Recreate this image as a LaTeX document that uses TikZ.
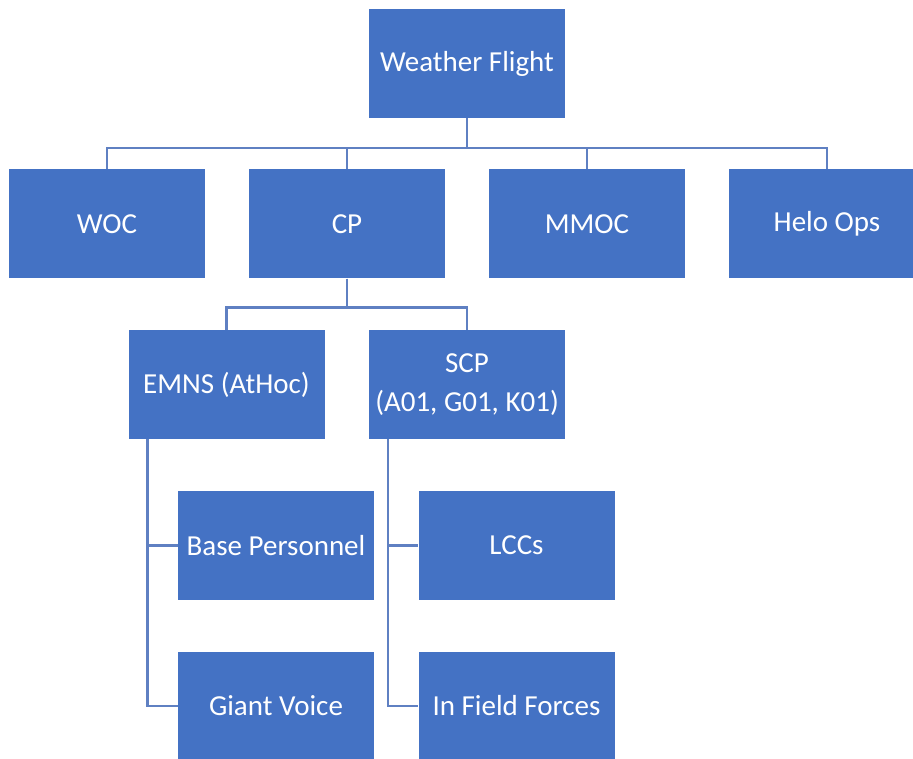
\documentclass[tikz,border=0pt]{standalone}
\usepackage{fontspec}
\setmainfont{Carlito}
\definecolor{boxblue}{HTML}{4472C4}
\definecolor{lineblue}{HTML}{5F80C2}
\tikzset{
  unit/.style={rectangle, fill=boxblue, text=white, minimum width=196pt, minimum height=109pt, inner sep=0pt, align=center, font=\fontsize{29}{39}\selectfont},
  conn/.style={draw=lineblue, line width=2.4pt}
}

\begin{document}
\begin{tikzpicture}[x=1pt, y=-1pt]
				\useasboundingbox (0,0) rectangle (913,759);
				\clip (0,0) rectangle (913,759);
				\node[unit] (WF)at(467, 63.5) {Weather Flight};
				\node[unit] (WOC)at(107, 224) {WOC};
				\node[unit] (CP)at(347, 224) {CP};
				\node[unit] (MMOC)at(587, 224) {MMOC};
				\node[unit] (HELO)at(827, 224) {Helo Ops};
				\node[unit] (EMNS)at(226.5, 384.5) {EMNS (AtHoc)};
				\node[unit] (SCP)at(467, 384.5) {SCP\\(A01, G01, K01)};
				\node[unit] (BASE)at(276, 545.5) {Base Personnel};
				\node[unit] (GV)at(276, 706) {Giant Voice};
				\node[unit] (LCC)at(516.5, 545.5) {LCCs};
				\node[unit] (IFF)at(516.5, 706) {In Field Forces};
				\draw[conn] (WF.south) -- ++(0,30) -| (WOC.north);
				\draw[conn] (WF.south) -- ++(0,30) -| (CP.north);
				\draw[conn] (WF.south) -- ++(0,30) -| (MMOC.north);
				\draw[conn] (WF.south) -- ++(0,30) -| (HELO.north);
				\draw[conn] (CP.south) -- ++(0,29) -| (EMNS.north);
				\draw[conn] (CP.south) -- ++(0,29) -| (SCP.north);
				\draw[conn] ([xshift=19pt]EMNS.south west) |- (BASE.west);
				\draw[conn] ([xshift=19pt]EMNS.south west) |- (GV.west);
				\draw[conn] ([xshift=19pt]SCP.south west) |- (LCC.west);
				\draw[conn] ([xshift=19pt]SCP.south west) |- (IFF.west);
			\end{tikzpicture}
\end{document}
